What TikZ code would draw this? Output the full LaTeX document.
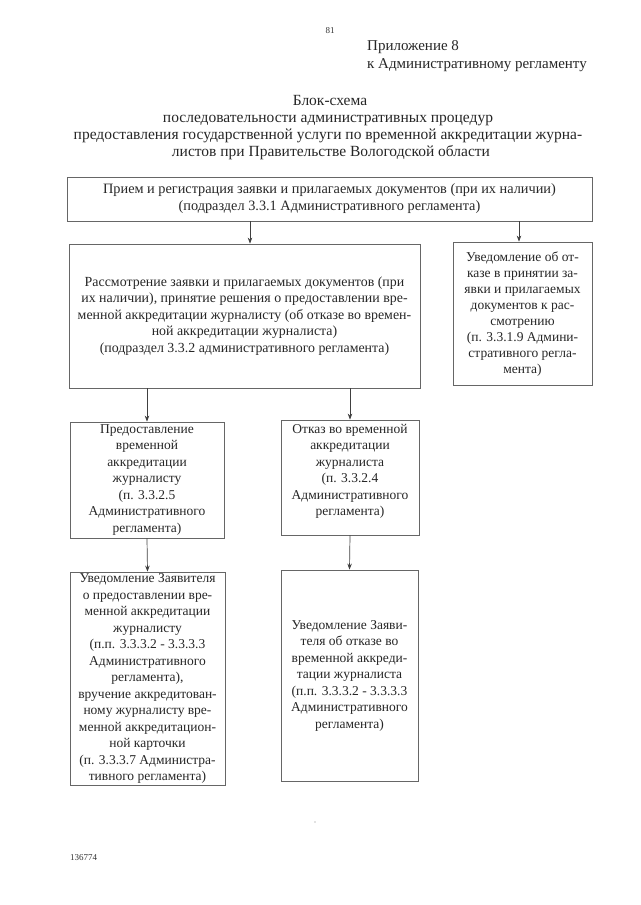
\documentclass[tikz,border=0pt]{standalone}
\usepackage{fontspec}
\setmainfont{Liberation Serif}
\usetikzlibrary{arrows.meta}
\begin{document}
\begin{tikzpicture}[x=1pt,y=-1pt,
  box/.style={draw=black!60, line width=0.8pt, inner sep=0pt, align=center, text=black!85,
    font=\fontsize{13.5}{16.5}\selectfont},
  arr/.style={draw=black!75, line width=0.7pt, -{Stealth[length=6pt,width=4.5pt]}},
  hdr/.style={inner sep=0pt, text=black!85, font=\fontsize{15}{17}\selectfont},
  ttl/.style={inner sep=0pt, anchor=base, text=black!85, font=\fontsize{15.5}{17}\selectfont},
  small/.style={inner sep=0pt, text=black!80, font=\fontsize{9}{10}\selectfont},
]
\useasboundingbox (0,0) rectangle (640,905);

% header
\node[small, anchor=base] (pg) at (330,33) {81};
\node[hdr, anchor=base west] (app1) at (367,50) {Приложение 8};
\node[hdr, anchor=base west] (app2) at (367,68) {к Административному регламенту};

% title
\node[ttl] (t1) at (330,105) {Блок-схема};
\node[ttl] (t2) at (328,122) {последовательности административных процедур};
\node[ttl] (t3) at (328,139) {предоставления государственной услуги по временной аккредитации журна-};
\node[ttl] (t4) at (331,156) {листов при Правительстве Вологодской области};

% boxes
\node[box, font=\fontsize{14.3}{17}\selectfont, minimum width=525pt, minimum height=44pt] (b1) at (329.5,199)
  {Прием и регистрация заявки и прилагаемых документов (при их наличии)\\
   (подраздел 3.3.1 Административного регламента)};

\node[box, font=\fontsize{13.9}{16.6}\selectfont, minimum width=351pt, minimum height=144pt] (b2) at (244.5,316)
  {Рассмотрение заявки и прилагаемых документов (при\\
   их наличии), принятие решения о предоставлении вре-\\
   менной аккредитации журналисту (об отказе во времен-\\
   ной аккредитации журналиста)\\
   (подраздел 3.3.2 административного регламента)};

\node[box, font=\fontsize{13.5}{15.9}\selectfont, minimum width=139pt, minimum height=143pt] (b3) at (522.5,313.5)
  {\vphantom{Ay}\\[-14pt]Уведомление об от-\\
   казе в принятии за-\\
   явки и прилагаемых\\
   документов к рас-\\
   смотрению\\
   (п. 3.3.1.9 Админи-\\
   стративного регла-\\
   мента)};

\node[box, minimum width=154pt, minimum height=116pt] (b4) at (147,480)
  {Предоставление\\
   временной\\
   аккредитации\\
   журналисту\\
   (п. 3.3.2.5\\
   Административного\\
   регламента)};

\node[box] (b5) at (350,477.5)
  {\parbox[c][115pt][t]{138pt}{\centering\vspace*{4pt}%
   Отказ во временной\\
   аккредитации\\
   журналиста\\
   (п. 3.3.2.4\\
   Административного\\
   регламента)}};

\node[box, minimum width=155pt, minimum height=213pt] (b6) at (147.5,678.5)
  {Уведомление Заявителя\\
   о предоставлении вре-\\
   менной аккредитации\\
   журналисту\\
   (п.п. 3.3.3.2 - 3.3.3.3\\
   Административного\\
   регламента),\\
   вручение аккредитован-\\
   ному журналисту вре-\\
   менной аккредитацион-\\
   ной карточки\\
   (п. 3.3.3.7 Администра-\\
   тивного регламента)};

\node[box, minimum width=137pt, minimum height=211pt] (b7) at (349.5,675.5)
  {Уведомление Заяви-\\
   теля об отказе во\\
   временной аккреди-\\
   тации журналиста\\
   (п.п. 3.3.3.2 - 3.3.3.3\\
   Административного\\
   регламента)};

% connectors
\coordinate (x1) at (250,0);
\coordinate (x2) at (519,0);
\draw[arr] (b1.south -| x1) -- (b2.north -| x1);
\draw[arr] (b1.south -| x2) -- (b3.north -| x2);
\draw[arr] (b2.south -| b4.north) -- (b4.north);
\draw[arr] (b2.south -| b5.north) -- (b5.north);
\draw[arr] (b4.south) -- (b6.north);
\draw[arr] (b5.south) -- (b7.north);

% footer
\fill[black!50] (315,822) circle (0.7pt);
\node[small, anchor=base west] (code) at (70,860) {136774};
\end{tikzpicture}
\end{document}
